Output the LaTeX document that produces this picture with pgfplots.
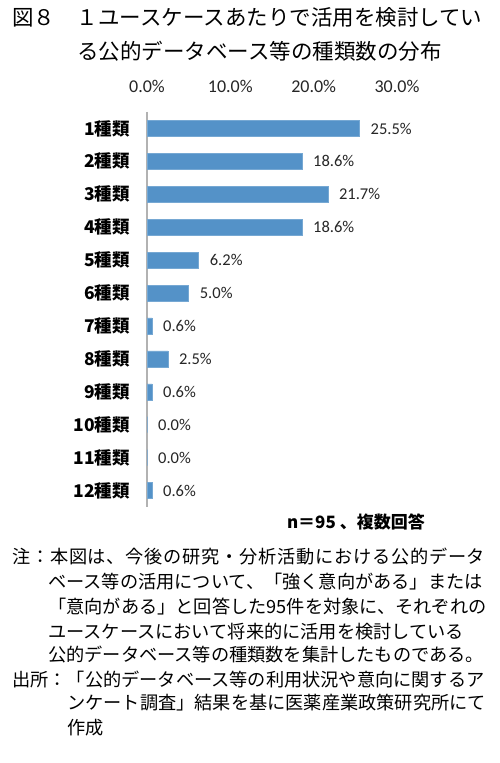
\documentclass[border=0pt]{standalone}
\usepackage{fontspec}
\setmainfont{Carlito}
\newfontfamily\jp{Noto Sans CJK JP}
\usepackage{pgfplots}
\pgfplotsset{compat=1.18}
\definecolor{barblue}{RGB}{84,146,200}
\begin{document}
\begin{tikzpicture}[x=1pt,y=1pt]
\path[fill=white] (0,0) rectangle (500,763);
% title
\node[anchor=west,inner sep=0,font=\jp\fontsize{21.5}{24}\selectfont] at (12,745.5) {図８　１ユースケースあたりで活用を検討してい};
\node[anchor=west,inner sep=0,font=\jp\fontsize{21.5}{24}\selectfont] at (77,712) {る公的データベース等の種類数の分布};
\begin{axis}[
  at={(147pt,256pt)}, anchor=south west,
  width=250pt, height=395pt, scale only axis,
  xmin=0, xmax=30, ymin=0.5, ymax=12.5,
  y dir=reverse,
  xbar, bar width=16pt, bar shift=0pt,
  clip=false,
  axis x line*=top, axis y line*=left,
  x axis line style={draw=none},
  y axis line style={draw=black!30, line width=1.2pt},
  major tick length=0pt,
  xtick={0,10,20,30},
  xticklabels={0.0\%,10.0\%,20.0\%,30.0\%},
  xticklabel style={anchor=base, inner sep=0pt, yshift=19.5pt, font=\fontsize{18}{20}\selectfont, text=black!85},
  ytick={1,2,3,4,5,6,7,8,9,10,11,12},
  yticklabels={1種類,2種類,3種類,4種類,5種類,6種類,7種類,8種類,9種類,10種類,11種類,12種類},
  yticklabel style={anchor=east, inner sep=0pt, xshift=-17pt, font=\jp\bfseries\fontsize{17.5}{20}\selectfont},
  nodes near coords,
  point meta=x,
  nodes near coords={\pgfmathprintnumber[fixed,fixed zerofill,precision=1,assume math mode=true]{\pgfplotspointmeta}\%},
  every node near coord/.append style={anchor=west, inner sep=0pt, xshift=11pt, font=\fontsize{16.5}{18}\selectfont, text=black!85},
]
\addplot[fill=barblue, draw=barblue!80!white] coordinates {
(25.5,1) (18.6,2) (21.7,3) (18.6,4) (6.2,5) (5.0,6) (0.6,7) (2.5,8) (0.6,9) (0.0,10) (0.0,11) (0.6,12)
};
\end{axis}
\node[anchor=east,inner sep=0,font=\jp\bfseries\fontsize{17}{20}\selectfont] at (425,241) {n＝95 、複数回答};
% notes
\begin{scope}[every node/.style={anchor=west,inner sep=0,font=\jp\fontsize{18.2}{20}\selectfont}]
\node at (12,206.3) {\makebox[473pt][l]{注\hfill {}：\hfill {}本\hfill {}図\hfill {}は\hfill {}、\hfill {}今\hfill {}後\hfill {}の\hfill {}研\hfill {}究\hfill {}・\hfill {}分\hfill {}析\hfill {}活\hfill {}動\hfill {}に\hfill {}お\hfill {}け\hfill {}る\hfill {}公\hfill {}的\hfill {}デ\hfill {}ー\hfill {}タ}};
\node at (48,181.3) {ベース等の活用について、「強く意向がある」または};
\node at (48,156.3) {「意向がある」と回答した95件を対象に、それぞれの};
\node at (48,131.3) {ユースケースにおいて将来的に活用を検討している};
\node at (48,108) {公的データベース等の種類数を集計したものである。};
\node at (12,83) {出所：「公的データベース等の利用状況や意向に関するア};
\node at (67,60) {ンケート調査」結果を基に医薬産業政策研究所にて};
\node at (67,35) {作成};
\end{scope}
\end{tikzpicture}
\end{document}
